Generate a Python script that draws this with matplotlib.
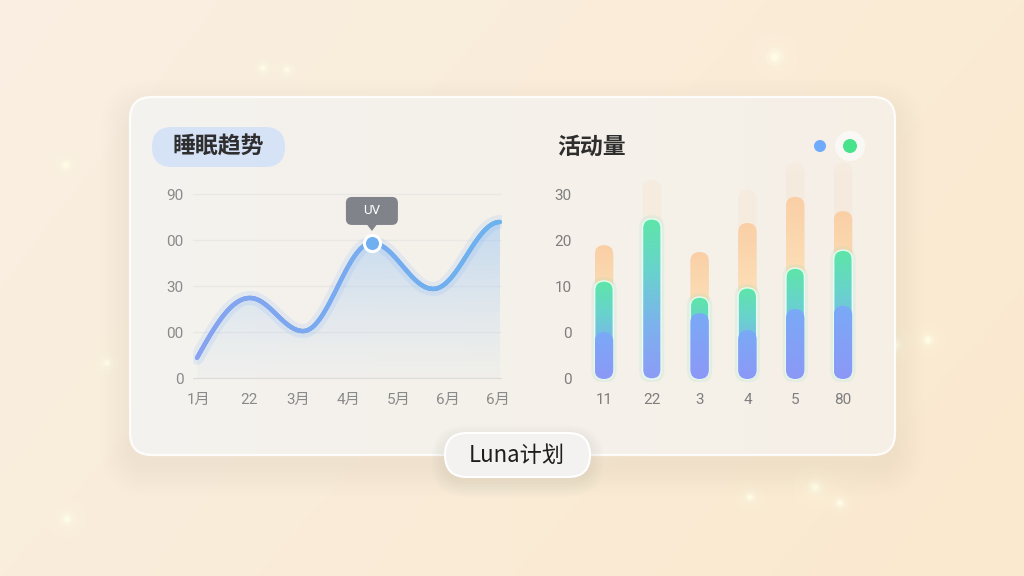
import numpy as np
import matplotlib
matplotlib.use('Agg')
import matplotlib.pyplot as plt
from matplotlib.patches import FancyBboxPatch, Circle, Polygon
from matplotlib.collections import LineCollection

plt.rcParams['font.family'] = ['Noto Sans CJK SC', 'DejaVu Sans']

# ---- 数据 ----
# 睡眠趋势 (曲线的峰谷点)
sleep_x = [-0.04, 1.02, 2.09, 3.47, 4.70, 6.04]
sleep_y = [10.9, 43.5, 25.5, 73.4, 48.4, 84.8]
sleep_xlabels = ['1月', '22', '3月', '4月', '5月', '6月', '6月']
sleep_yticks = [0, 25, 50, 75, 100]
sleep_ylabels = ['0', '00', '30', '00', '90']
peak_idx = 3
tooltip_text = 'UV'

# 活动量 (分层柱)
act_cats = ['11', '22', '3', '4', '5', '80']
act_blue = [10.2, 0, 14.3, 10.6, 15.2, 15.9]
act_green = [21.3, 34.8, 17.8, 19.8, 24.1, 28.0]
act_orange = [29.1, 0, 27.6, 33.9, 39.6, 36.5]
act_faint = [0, 43.3, 0, 41.1, 47.0, 47.0]
act_yticks = [0, 10, 20, 30, 40]
act_ylabels = ['0', '0', '10', '20', '30']

W, H = 1024, 576
fig = plt.figure(figsize=(W / 100, H / 100), dpi=100)
tick_font = ['Roboto', 'Noto Sans CJK SC']


def fig_rect(x0, y0, x1, y1):
    # 像素框(左上原点) -> figure 坐标
    return [x0 / W, 1 - y1 / H, (x1 - x0) / W, (y1 - y0) / H]


def rbox(x0, y0, x1, y1, r, **kw):
    return FancyBboxPatch((x0, y0), x1 - x0, y1 - y0,
                          boxstyle=f'round,pad=0,rounding_size={r}', **kw)


def rgb(*c):
    return tuple(v / 255 for v in c)


# ---- 背景层 ----
bg = fig.add_axes([0, 0, 1, 1], zorder=0)
bg.axis('off')
xx = np.linspace(0, 1, W)[None, :, None]
yy = np.linspace(0, 1, H)[:, None, None]
c_l = np.array([249, 239, 226])
c_r = np.array([251, 235, 212])
img = c_l * (1 - xx) + c_r * xx + np.array([0, -2, -6]) * yy
bg.imshow(np.clip(img / 255, 0, 1), extent=(0, W, H, 0), aspect='auto', zorder=0)

sparkles = [(775, 57, 1.3), (263, 68, 0.8), (287, 70, 0.8), (66, 165, 0.9), (107, 363, 1.0),
            (873, 345, 1.3), (895, 345, 1.0), (928, 340, 1.0), (815, 487, 1.2),
            (750, 497, 0.8), (67, 519, 1.1), (840, 503, 0.8)]
for sx, sy, s in sparkles:
    for r, a in [(18, 0.08), (11, 0.14), (7, 0.3), (4, 0.6), (2.2, 1.0)]:
        bg.add_patch(Circle((sx, sy), r * s, color=(1, 0.99, 0.9), alpha=a, lw=0, zorder=1))

# 卡片阴影
for i in range(10):
    e = 2 + i * 3
    bg.add_patch(rbox(130 - e, 97 - e + 12, 895 + e, 455 + e + 12, 22 + e,
                      fc=rgb(205, 190, 170), ec='none', alpha=0.014, zorder=1))
card = rbox(130, 97, 895, 455, 22, fc='none', ec='none', zorder=2)
bg.add_patch(card)
cimg = np.array([244, 243, 240]) * (1 - xx) + np.array([246, 239, 229]) * xx
im = bg.imshow(np.clip(cimg / 255, 0, 1), extent=(0, W, H, 0), aspect='auto', zorder=2)
im.set_clip_path(card)
bg.add_patch(rbox(130, 97, 895, 455, 22, fc='none', ec='white', lw=1.6, alpha=0.9, zorder=3))

# 标题
bg.add_patch(rbox(152, 127, 285, 167, 20, fc=rgb(214, 226, 246), ec='none', zorder=3))
bg.text(218, 147, '睡眠趋势', fontsize=16.5, weight='bold', color='#2e2e2e',
        ha='center', va='center', zorder=4)
bg.text(557, 147, '活动量', fontsize=16.5, weight='bold', color='#2e2e2e',
        ha='left', va='center', zorder=4)

# 图例点
bg.add_patch(Circle((820, 146), 6, color=rgb(112, 170, 250), lw=0, zorder=4))
bg.add_patch(Circle((850, 146), 15, color='white', alpha=0.6, lw=0, zorder=3))
bg.add_patch(Circle((850, 146), 7, color=rgb(70, 226, 140), lw=0, zorder=4))

# Luna计划
for i in range(6):
    e = 1 + i * 2.5
    bg.add_patch(rbox(445 - e, 433 - e + 6, 590 + e, 477 + e + 6, 22 + e,
                      fc=rgb(175, 170, 165), ec='none', alpha=0.03, zorder=4))
bg.add_patch(rbox(445, 433, 590, 477, 22, fc=rgb(243, 242, 240), ec='white', lw=1.5, zorder=5))
bg.text(517, 455, 'Luna计划', fontsize=16, color='#1e1e1e', ha='center', va='center', zorder=6)

bg.set_xlim(0, W)
bg.set_ylim(H, 0)

# ---- 睡眠趋势 ----
axL = fig.add_axes(fig_rect(193, 160, 502, 380), zorder=1)
axL.patch.set_alpha(0)
xpix0, xstep = 199, 49.83
axL.set_xlim((193 - xpix0) / xstep, (502 - xpix0) / xstep)
axL.set_ylim(-2 / 1.84, 218 / 1.84)
for s in axL.spines.values():
    s.set_visible(False)
axL.set_xticks(range(len(sleep_xlabels)))
axL.set_xticklabels(sleep_xlabels, family=tick_font)
axL.set_yticks(sleep_yticks)
axL.set_yticklabels(sleep_ylabels, family=tick_font)
axL.tick_params(length=0, labelsize=11, labelcolor='#8a8a8a')
axL.tick_params(axis='x', pad=9)
axL.tick_params(axis='y', pad=7)
for v in sleep_yticks:
    axL.axhline(v, color=rgb(234, 232, 228) if v else rgb(222, 220, 216), lw=0.9, zorder=0.5)

xs, ys = [], []
for i in range(len(sleep_x) - 1):
    t = np.linspace(0, 1, 80)
    s = np.sin(t * np.pi / 2) if i == 0 else (1 - np.cos(t * np.pi)) / 2
    xs.append(sleep_x[i] + (sleep_x[i + 1] - sleep_x[i]) * t)
    ys.append(sleep_y[i] + (sleep_y[i + 1] - sleep_y[i]) * s)
xc = np.concatenate(xs)
yc = np.concatenate(ys)

# 面积渐变
poly = Polygon(np.vstack([np.column_stack([xc, yc]), [[xc[-1], 0], [xc[0], 0]]]),
               closed=True, fc='none', ec='none')
axL.add_patch(poly)
g = np.linspace(0, 1, 256)
fill = np.zeros((256, 1, 4))
fill[:, 0, :3] = rgb(150, 195, 245)
fill[:, 0, 3] = 0.05 + 0.5 * g ** 1.3
fim = axL.imshow(fill, extent=(xc[0], xc[-1], 0, 90), origin='lower', aspect='auto',
                 zorder=1, interpolation='bilinear')
fim.set_clip_path(poly)

# 曲线
axL.plot(xc, yc, color=rgb(120, 175, 245), lw=10, alpha=0.15, solid_capstyle='round', zorder=2)
pts = np.column_stack([xc, yc]).reshape(-1, 1, 2)
segs = np.concatenate([pts[:-1], pts[1:]], axis=1)
f = np.linspace(0, 1, len(segs))[:, None]
cols = np.array(rgb(135, 162, 240)) * (1 - f) + np.array(rgb(108, 178, 238)) * f
axL.add_collection(LineCollection(segs, colors=cols, linewidths=3.2, capstyle='round', zorder=3))
axL.scatter([sleep_x[peak_idx]], [sleep_y[peak_idx]], s=135, color=rgb(112, 176, 240),
            edgecolors='white', linewidths=2.2, zorder=5)

# 提示框
px, py = axL.transData.transform((sleep_x[peak_idx], sleep_y[peak_idx]))
bx, by = px, H - py
tip_c = rgb(128, 131, 138)
axL.add_patch(rbox(bx - 26, by - 46, bx + 26, by - 18, 6, fc=tip_c, ec='none',
                   transform=bg.transData, clip_on=False, zorder=6))
axL.add_patch(Polygon([(bx - 5, by - 18.5), (bx + 5, by - 18.5), (bx, by - 12)], closed=True,
                      fc=tip_c, ec='none', transform=bg.transData, clip_on=False, zorder=6))
axL.text(bx, by - 32, tooltip_text, fontsize=9.5, color='white', ha='center', va='center',
         family=tick_font, transform=bg.transData, zorder=7)

# ---- 活动量 ----
axR = fig.add_axes(fig_rect(580, 150, 866, 382), zorder=1)
axR.patch.set_alpha(0)
rx0, rstep, ry = 604, 47.8, 4.6
axR.set_xlim((580 - rx0) / rstep, (866 - rx0) / rstep)
axR.set_ylim(-3 / ry, 229 / ry)
for s in axR.spines.values():
    s.set_visible(False)
axR.set_xticks(range(len(act_cats)))
axR.set_xticklabels(act_cats, family=tick_font)
axR.set_yticks(act_yticks)
axR.set_yticklabels(act_ylabels, family=tick_font)
axR.tick_params(length=0, labelsize=11, labelcolor='#7e7e7e')
axR.tick_params(axis='x', pad=8)
axR.tick_params(axis='y', pad=6)

aspect = rstep / ry
bw = 18.5 / rstep


def grad_bar(x, top, stops, alphas=(1.0, 1.0), z=2, edge=None):
    if top <= 0:
        return
    clip = FancyBboxPatch((x - bw / 2, 0), bw, top,
                          boxstyle=f'round,pad=0,rounding_size={bw / 2}',
                          mutation_aspect=aspect, fc='none', ec='none')
    axR.add_patch(clip)
    t = np.linspace(0, 1, 256)
    pos = np.linspace(0, 1, len(stops))
    arr = np.zeros((256, 1, 4))
    for k in range(3):
        arr[:, 0, k] = np.interp(t, pos, [c[k] / 255 for c in stops])
    arr[:, 0, 3] = alphas[0] * (1 - t) + alphas[1] * t
    bim = axR.imshow(arr, extent=(x - bw / 2, x + bw / 2, 0, top), origin='lower',
                     aspect='auto', zorder=z, interpolation='bilinear')
    bim.set_clip_path(clip)
    if edge:
        axR.add_patch(FancyBboxPatch((x - bw / 2, 0), bw, top,
                                     boxstyle=f'round,pad=0,rounding_size={bw / 2}',
                                     mutation_aspect=aspect, fc='none', ec=edge,
                                     lw=1.0, alpha=0.9, zorder=z + 0.1))


for i in range(len(act_cats)):
    grad_bar(i, act_faint[i], [(246, 231, 212), (245, 229, 210)], (0.5, 0.4), z=1)
    grad_bar(i, act_orange[i], [(253, 240, 205), (252, 225, 185), (250, 207, 166)], z=2)
    # 绿柱的柔光
    axR.add_patch(FancyBboxPatch((i - bw / 2 - 0.07, -0.8), bw + 0.14, act_green[i] + 1.6,
                                 boxstyle=f'round,pad=0,rounding_size={bw / 2 + 0.07}',
                                 mutation_aspect=aspect, fc=rgb(130, 225, 195), ec='none',
                                 alpha=0.14, zorder=2.5))
    grad_bar(i, act_green[i], [(140, 156, 246), (125, 178, 238), (105, 210, 205), (94, 230, 168)],
             z=3, edge=rgb(235, 255, 248))
    grad_bar(i, act_blue[i], [(140, 152, 246), (122, 170, 246)], z=4)

axR.set_xlim((580 - rx0) / rstep, (866 - rx0) / rstep)
axR.set_ylim(-3 / ry, 229 / ry)
axL.set_xlim((193 - xpix0) / xstep, (502 - xpix0) / xstep)
axL.set_ylim(-2 / 1.84, 218 / 1.84)

fig.savefig('out.png', dpi=100)
